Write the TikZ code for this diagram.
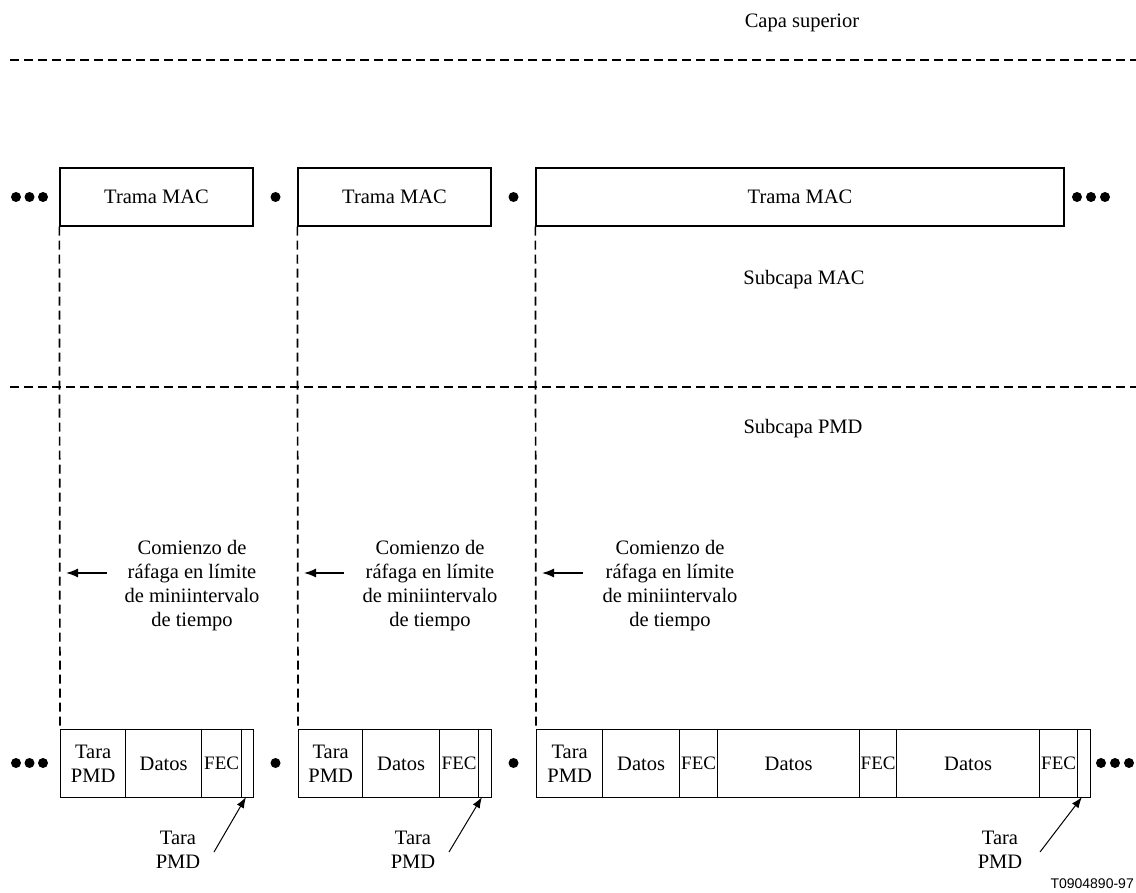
\documentclass[tikz,border=0pt]{standalone}
\usepackage{fontspec}
\setmainfont{Liberation Serif}
\newfontfamily\codefont{Liberation Sans}
\usetikzlibrary{arrows.meta}
\begin{document}
\begin{tikzpicture}[x=1pt,y=-1pt,
  txt/.style={font=\fontsize{20.5}{24}\selectfont, inner sep=0pt, align=center},
  frame/.style={draw, line width=1.3pt, inner sep=0pt, txt},
  cell/.style={frame, anchor=north west, minimum height=68pt},
  fec/.style={cell, font=\fontsize{19}{22}\selectfont},
  layerline/.style={line width=1.7pt, dash pattern=on 9pt off 5pt},
  burst/.style={line width=1.7pt, dash pattern=on 9pt off 5pt},
  pointer/.style={line width=1.5pt, -{Latex[length=12pt,width=9pt]}},
  callout/.style={line width=1pt, -{Latex[length=11pt,width=8pt]}},
  dot/.style={fill=black}]
\useasboundingbox (0,0) rectangle (1136,893);

% layer labels and boundaries
\node[txt] (upper) at (802,23) {Capa superior};
\coordinate (l1a) at (10,60);   \coordinate (l1b) at (1136,60);
\coordinate (l2a) at (10,387);  \coordinate (l2b) at (1136,387);
\draw[layerline] (l1a) -- (l1b);
\draw[layerline] (l2a) -- (l2b);
\node[txt] (macsub) at (804,280) {Subcapa MAC};
\node[txt] (pmdsub) at (803,429) {Subcapa PMD};

% MAC frames
\node[frame, minimum width=193pt, minimum height=58pt] (m1) at (156.5,197) {Trama MAC};
\node[frame, minimum width=193pt, minimum height=58pt] (m2) at (394.5,197) {Trama MAC};
\node[frame, minimum width=528pt, minimum height=58pt] (m3) at (800,197) {Trama MAC};

% dots between MAC frames
\foreach \x in {16,29.5,43} \fill[dot] (\x,197) circle (5pt);
\fill[dot] (275.5,197) circle (5pt);
\fill[dot] (513.5,197) circle (5pt);
\foreach \x in {1077,1091,1105} \fill[dot] (\x,197) circle (5pt);

% PMD bursts, first
\node[cell, minimum width=65pt] (b1a) at (60,729) {Tara\\PMD};
\node[cell, minimum width=76pt] (b1b) at (125,729) {Datos};
\node[fec, minimum width=40pt] (b1c) at (201,729) {FEC};
\node[cell, minimum width=12pt] (b1d) at (241,729) {};
% second
\node[cell, minimum width=64pt] (b2a) at (298,729) {Tara\\PMD};
\node[cell, minimum width=77pt] (b2b) at (362,729) {Datos};
\node[fec, minimum width=39pt] (b2c) at (439,729) {FEC};
\node[cell, minimum width=13pt] (b2d) at (478,729) {};
% third
\node[cell, minimum width=66pt] (b3a) at (536,729) {Tara\\PMD};
\node[cell, minimum width=77pt] (b3b) at (602,729) {Datos};
\node[fec, minimum width=38pt] (b3c) at (679,729) {FEC};
\node[cell, minimum width=142pt] (b3d) at (717,729) {Datos};
\node[fec, minimum width=37pt] (b3e) at (859,729) {FEC};
\node[cell, minimum width=143pt] (b3f) at (896,729) {Datos};
\node[fec, minimum width=38pt] (b3g) at (1039,729) {FEC};
\node[cell, minimum width=13pt] (b3h) at (1077,729) {};

% dots between bursts
\foreach \x in {16,29.5,43} \fill[dot] (\x,763) circle (5pt);
\fill[dot] (275.5,763) circle (5pt);
\fill[dot] (513.5,763) circle (5pt);
\foreach \x in {1101,1115,1129} \fill[dot] (\x,763) circle (5pt);

% burst start lines
\draw[burst] (m1.south west) -- (b1a.north west);
\draw[burst] (m2.south west) -- (b2a.north west);
\draw[burst] (m3.south west) -- (b3a.north west);

% burst start notes
\node[txt] (n1) at (192,585.5) {Comienzo de\\r\'afaga en l\'imite\\de miniintervalo\\de tiempo};
\node[txt] (n2) at (430,585.5) {Comienzo de\\r\'afaga en l\'imite\\de miniintervalo\\de tiempo};
\node[txt] (n3) at (670,585.5) {Comienzo de\\r\'afaga en l\'imite\\de miniintervalo\\de tiempo};
\coordinate (p1s) at (107,573); \coordinate (p1e) at (66,573);
\coordinate (p2s) at (344,573); \coordinate (p2e) at (304,573);
\coordinate (p3s) at (583,573); \coordinate (p3e) at (542,573);
\draw[pointer] (p1s) -- (p1e);
\draw[pointer] (p2s) -- (p2e);
\draw[pointer] (p3s) -- (p3e);

% trailing PMD overhead callouts
\node[txt] (t1) at (178,850) {Tara\\PMD};
\node[txt] (t2) at (413,850) {Tara\\PMD};
\node[txt] (t3) at (1000,850) {Tara\\PMD};
\coordinate (c1) at (214,852); \coordinate (c1t) at (246,797);
\coordinate (c2) at (449,852); \coordinate (c2t) at (482,797);
\coordinate (c3) at (1040,852); \coordinate (c3t) at (1082,797);
\draw[callout] (c1) -- (c1t);
\draw[callout] (c2) -- (c2t);
\draw[callout] (c3) -- (c3t);

% figure code
\node[font=\codefont\fontsize{14}{16}\selectfont, inner sep=0pt, anchor=east] (code) at (1134,884) {T0904890-97};
\end{tikzpicture}
\end{document}
